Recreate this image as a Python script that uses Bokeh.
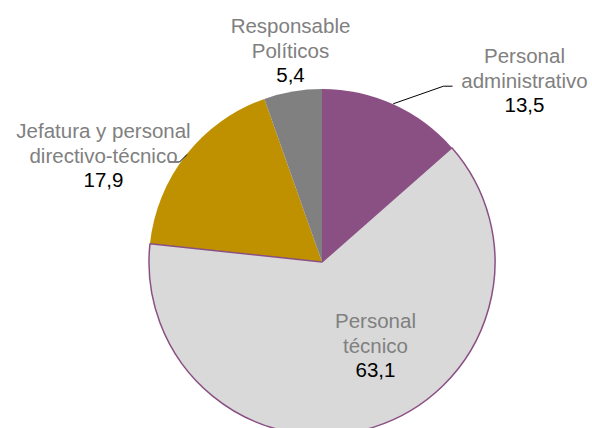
import numpy as np
from bokeh.plotting import figure
from bokeh.models import Range1d
from bokeh.core.properties import value
from bokeh.embed import file_html
from bokeh.resources import INLINE

# ---- data ----
categories = ["Personal administrativo", "Personal técnico",
              "Jefatura y personal directivo-técnico", "Responsable Políticos"]
values = [13.5, 63.1, 17.9, 5.4]
value_labels = ["13,5", "63,1", "17,9", "5,4"]
name_lines = [["Personal", "administrativo"], ["Personal", "técnico"],
              ["Jefatura y personal", "directivo-técnico"], ["Responsable", "Políticos"]]
colors = ["#8A5084", "#D9D9D9", "#BF9000", "#808080"]

# ---- layout (page pixel coordinates) ----
W, H = 592, 428
def Y(py):
    return H - py

cx, cy, r = 321.5, Y(261.5), 173
# label centres (x, y of first line)
label_pos = [(524, 55), (375, 320), (103, 130), (290, 25)]
line_gap = 24.5

p = figure(width=W, height=H, output_backend="svg", toolbar_location=None,
           x_range=Range1d(0, W), y_range=Range1d(0, H),
           min_border=0, outline_line_color=None)
p.axis.visible = False
p.grid.visible = False
p.background_fill_color = "white"

vals = np.array(values, dtype=float)
frac = vals / vals.sum()
cum = np.concatenate([[0], np.cumsum(frac)])
starts = np.pi / 2 - cum[:-1] * 2 * np.pi
ends = np.pi / 2 - cum[1:] * 2 * np.pi

order = [0, 2, 3, 1]  # draw técnico last so its outline shows
for i in order:
    if i == 1:
        p.wedge(x=cx, y=cy, radius=r, start_angle=starts[i], end_angle=ends[i],
                direction="clock", fill_color=colors[i], line_color="#8A5084",
                line_width=1.5)
    else:
        p.wedge(x=cx, y=cy, radius=r, start_angle=starts[i], end_angle=ends[i],
                direction="clock", fill_color=colors[i], line_color=None)

# leader lines
p.line(x=[392.7, 443, 452], y=[Y(103.3), Y(85.7), Y(85.7)], line_color="black", line_width=1)
p.line(x=[168, 179, 186.5], y=[Y(161.5), Y(161.5), Y(154)], line_color="black", line_width=1)

# labels
nx, ny, nt, vx, vy, vt = [], [], [], [], [], []
for (lx, ly), lines, vl in zip(label_pos, name_lines, value_labels):
    for k, t in enumerate(lines):
        nx.append(lx); ny.append(Y(ly + k * line_gap)); nt.append(t)
    vx.append(lx); vy.append(Y(ly + len(lines) * line_gap)); vt.append(vl)

p.text(x=nx, y=ny, text=nt, text_align="center", text_baseline="middle",
       text_font=value("Liberation Sans"), text_font_size="20.5px", text_color="#808080")
p.text(x=vx, y=vy, text=vt, text_align="center", text_baseline="middle",
       text_font=value("Liberation Sans"), text_font_size="20.5px", text_color="#000000")

open("out.html", "w").write(file_html(p, INLINE))
